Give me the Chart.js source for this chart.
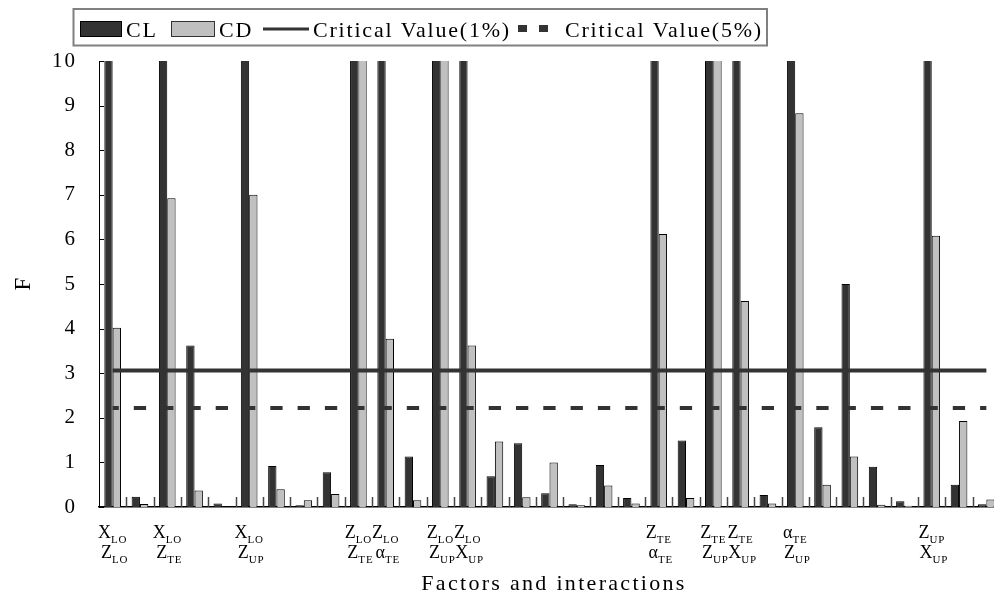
<!DOCTYPE html>
<html>
<head>
<meta charset="utf-8">
<title>F values of factors and interactions</title>
<script src="https://cdn.jsdelivr.net/npm/chart.js@4.4.0/dist/chart.umd.min.js"></script>
<style>
  html, body { margin: 0; padding: 0; overflow: hidden; background: #fff; }
  canvas { display: block; }
</style>
</head>
<body>
<canvas id="chart" width="1000" height="598"></canvas>
<script>
// factors and interactions; only the named ones get an axis label
// "A_sub B_sub" -> two stacked lines, each with a subscript
var categories = [
    'X_LO Z_LO', '', 'X_LO Z_TE', '', '', 'X_LO Z_UP', '', '', '',
    'Z_LO Z_TE', 'Z_LO α_TE', '', 'Z_LO Z_UP', 'Z_LO X_UP', '', '', '', '', '', '',
    'Z_TE α_TE', '', 'Z_TE Z_UP', 'Z_TE X_UP', '', 'α_TE Z_UP', '', '', '', '',
    'Z_UP X_UP', '', ''
];

// F values (bars above 10 run off the top of the axis)
var clValues = [
    12, 0.23, 12, 3.62, 0.08, 12, 0.92, 0.04, 0.78, 12, 12,
    1.13, 12, 12, 0.69, 1.43, 0.31, 0.06, 0.94, 0.20, 12, 1.49,
    12, 12, 0.27, 12, 1.79, 5.00, 0.90, 0.13, 12, 0.50, 0.06
];
var cdValues = [
    4.02, 0.07, 6.92, 0.37, 0, 7.00, 0.40, 0.15, 0.29, 12, 3.77,
    0.15, 12, 3.62, 1.47, 0.22, 1.00, 0.04, 0.48, 0.08, 6.12, 0.20,
    12, 4.62, 0.08, 8.83, 0.50, 1.13, 0.05, 0.03, 6.08, 1.93, 0.17
];

var critical1 = 3.06;
var critical5 = 2.22;

var yTicks = [0, 1, 2, 3, 4, 5, 6, 7, 8, 9, 10];

var SERIF = '"Liberation Serif", "Times New Roman", serif';

function drawFactor(ctx, text, cx, baseline) {
    var parts = text.split('_');
    var main = parts[0], sub = parts[1] || '';
    ctx.letterSpacing = '0px';
    ctx.font = '18px ' + SERIF;
    var w1 = ctx.measureText(main).width;
    ctx.letterSpacing = '0.8px';
    ctx.font = '11px ' + SERIF;
    var w2 = ctx.measureText(sub).width;
    var start = cx - (w1 + w2) / 2;
    ctx.letterSpacing = '0px';
    ctx.font = '18px ' + SERIF;
    ctx.fillText(main, start, baseline);
    ctx.letterSpacing = '0.8px';
    ctx.font = '11px ' + SERIF;
    ctx.fillText(sub, start + w1, baseline + 5);
}

var decorations = {
    id: 'decorations',
    beforeDraw(chart) {
        chart.ctx.letterSpacing = '2px';
    },
    beforeDatasetsDraw(chart) {
        chart.ctx.letterSpacing = '0px';
    },
    afterDraw(chart) {
        var ctx = chart.ctx;
        var xs = chart.scales.x, ys = chart.scales.y;
        var area = chart.chartArea;
        ctx.save();

        // small marks between the categories, pointing up
        ctx.strokeStyle = '#444';
        ctx.lineWidth = 1.5;
        for (var i = 1; i < categories.length; i++) {
            var bx = Math.round((xs.getPixelForValue(i - 1) + xs.getPixelForValue(i)) / 2) + 0.5;
            ctx.beginPath();
            ctx.moveTo(bx, area.bottom);
            ctx.lineTo(bx, area.bottom - 10);
            ctx.stroke();
        }
        // y ticks on the inside of the axis
        ctx.strokeStyle = '#000';
        ctx.lineWidth = 1;
        yTicks.forEach(function(v) {
            var py = Math.round(ys.getPixelForValue(v)) + 0.5;
            ctx.beginPath();
            ctx.moveTo(area.left, py);
            ctx.lineTo(area.left + 5, py);
            ctx.stroke();
        });

        // two-line category labels with subscripts
        ctx.fillStyle = '#000';
        ctx.textAlign = 'left';
        ctx.textBaseline = 'alphabetic';
        categories.forEach(function(label, idx) {
            if (!label) return;
            var cx = xs.getPixelForValue(idx);
            var lines = label.split(' ');
            drawFactor(ctx, lines[0], cx, 538);
            drawFactor(ctx, lines[1], cx + 2, 558);
        });

        // axis titles
        ctx.letterSpacing = '2.3px';
        ctx.font = '22px ' + SERIF;
        ctx.textAlign = 'center';
        ctx.fillText('Factors and interactions', 554, 590);

        ctx.save();
        ctx.translate(30, (area.top + area.bottom) / 2);
        ctx.rotate(-Math.PI / 2);
        ctx.letterSpacing = '0px';
        ctx.font = '23px ' + SERIF;
        ctx.fillText('F', 0, 0);
        ctx.restore();

        // legend
        var ds = chart.data.datasets;
        ctx.strokeStyle = '#808080';
        ctx.lineWidth = 2;
        ctx.strokeRect(73.5, 9, 693.5, 36.5);

        ctx.textAlign = 'left';
        ctx.letterSpacing = '1.8px';
        ctx.font = '22px ' + SERIF;

        ctx.fillStyle = ds[0].backgroundColor;
        ctx.fillRect(80, 21, 42, 16);
        ctx.strokeStyle = '#000';
        ctx.lineWidth = 1;
        ctx.strokeRect(80.5, 21.5, 41, 15);
        ctx.fillStyle = '#000';
        ctx.fillText(ds[0].label, 126, 37);

        ctx.fillStyle = ds[1].backgroundColor;
        ctx.fillRect(171, 21, 44, 16);
        ctx.strokeStyle = '#333';
        ctx.strokeRect(171.5, 21.5, 43, 15);
        ctx.fillStyle = '#000';
        ctx.fillText(ds[1].label, 219, 37);

        ctx.strokeStyle = ds[2].borderColor;
        ctx.lineWidth = 3;
        ctx.beginPath();
        ctx.moveTo(263, 29);
        ctx.lineTo(309, 29);
        ctx.stroke();
        ctx.fillText(ds[2].label, 313, 37);

        ctx.fillStyle = ds[3].borderColor;
        ctx.fillRect(518, 25, 9, 7);
        ctx.fillRect(539, 25, 9, 7);
        ctx.fillStyle = '#000';
        ctx.fillText(ds[3].label, 565, 37);

        ctx.restore();
    }
};

var ctx = document.getElementById('chart');

var myChart = new Chart(ctx, {
    type: 'bar',
    data: {
        labels: categories,
        datasets: [
            {
                label: 'CL',
                data: clValues,
                backgroundColor: '#333333',
                borderColor: '#000',
                borderWidth: 1,
                barPercentage: 1,
                categoryPercentage: 0.61,
                order: 2
            },
            {
                label: 'CD',
                data: cdValues,
                backgroundColor: '#c0c0c0',
                borderColor: '#000',
                borderWidth: 1,
                barPercentage: 1,
                categoryPercentage: 0.61,
                order: 2
            },
            {
                type: 'line',
                label: 'Critical Value(1%)',
                data: categories.map(function() { return critical1; }),
                borderColor: '#333333',
                borderWidth: 4,
                borderCapStyle: 'butt',
                pointRadius: 0,
                fill: false,
                order: 1
            },
            {
                type: 'line',
                label: 'Critical Value(5%)',
                data: categories.map(function() { return critical5; }),
                borderColor: '#333333',
                borderWidth: 4,
                borderCapStyle: 'butt',
                borderDash: [12.3, 15],
                borderDashOffset: 6.15,
                pointRadius: 0,
                fill: false,
                order: 1
            }
        ]
    },
    options: {
        responsive: false,
        animation: false,
        devicePixelRatio: 1,
        layout: { padding: { top: 61, right: 0, left: 0, bottom: 0 } },
        plugins: {
            legend: { display: false },
            tooltip: { enabled: false }
        },
        scales: {
            x: {
                grid: { display: false },
                border: { display: true, color: '#000', width: 1.5 },
                ticks: { display: false },
                afterFit: function(scale) { scale.height = 91; }
            },
            y: {
                min: 0,
                max: 10,
                grid: { display: false, drawTicks: false },
                border: { display: true, color: '#000', width: 1 },
                ticks: {
                    stepSize: 1,
                    padding: 22,
                    color: '#000',
                    font: { family: SERIF, size: 21 }
                },
                afterFit: function(scale) { scale.width = 99; }
            }
        }
    },
    plugins: [decorations]
});
</script>
</body>
</html>
